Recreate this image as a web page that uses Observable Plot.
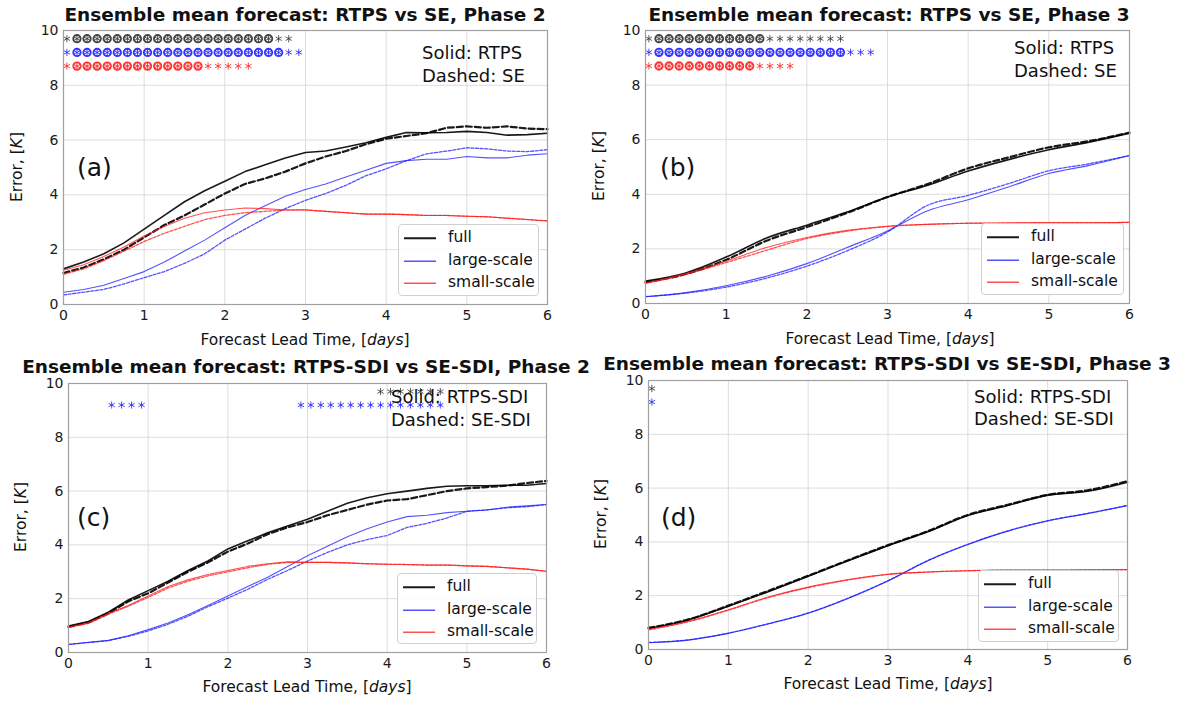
<!DOCTYPE html>
<html><head><meta charset="utf-8">
<script src="https://cdn.jsdelivr.net/npm/d3@7"></script>
<script src="https://cdn.jsdelivr.net/npm/@observablehq/plot@0.6"></script>
<style>
body{margin:0;background:#fff;}
#fig{position:relative;width:1177px;height:702px;overflow:hidden;font-family:"DejaVu Sans",sans-serif;color:#111;}
#fig svg{position:absolute;}
.abs{position:absolute;white-space:nowrap;line-height:1;}
.title{font-weight:bold;font-size:18.5px;transform:translate(-50%,-50%);}
.xlab{font-size:15.5px;transform:translate(-50%,-50%);}
.ylab{font-size:15.5px;transform:translate(-50%,-50%) rotate(-90deg);}
.plab{font-size:25px;transform:translateY(-50%);}
.ann{font-size:18px;transform:translateY(-50%);}
.legend{border:1px solid #d0d0d0;border-radius:4px;background:rgba(255,255,255,0.85);box-sizing:border-box;}
.legend .item{position:absolute;left:0;display:flex;align-items:center;font-size:15.5px;transform:translateY(-50%);}
.legend svg{position:static !important;}
</style></head><body><div id="fig"></div>
<script>
// ---------- data ----------
const xTicks = [0, 1, 2, 3, 4, 5, 6];
const yTicks = [0, 2, 4, 6, 8, 10];
const leadFine = [0,0.25,0.5,0.75,1,1.25,1.5,1.75,2,2.25,2.5,2.75,3,3.25,3.5,3.75,4,4.25,4.5,4.75,5,5.25,5.5,5.75,6];
const leadCoarse = [0,0.5,1,1.5,2,2.5,3,3.5,4,4.5,5,5.5,6];
const sigTimes = [0.042,0.167,0.292,0.417,0.542,0.667,0.792,0.917,1.042,1.167,1.292,1.417,1.542,1.667,1.792,1.917,2.042,2.167,2.292,2.417,2.542,2.667,2.792,2.917,3.042,3.167,3.292,3.417,3.542,3.667,3.792,3.917,4.042,4.167,4.292,4.417,4.542,4.667];
const components = ["full", "large-scale", "small-scale"];

// Panel (a): RTPS vs SE, Phase 2 (lead times: leadFine)
const aFullRTPS  = [1.3,1.55,1.85,2.25,2.75,3.25,3.75,4.15,4.5,4.85,5.1,5.35,5.55,5.6,5.75,5.9,6.1,6.28,6.27,6.28,6.32,6.28,6.18,6.2,6.25];
const aFullSE    = [1.15,1.35,1.65,2.0,2.45,2.9,3.25,3.65,4.05,4.4,4.6,4.85,5.15,5.4,5.6,5.85,6.05,6.15,6.25,6.45,6.5,6.45,6.5,6.42,6.4];
const aLargeRTPS = [0.45,0.55,0.7,0.95,1.2,1.55,1.95,2.35,2.8,3.25,3.6,3.95,4.2,4.4,4.65,4.9,5.15,5.25,5.3,5.3,5.4,5.35,5.35,5.45,5.5];
const aLargeSE   = [0.35,0.45,0.55,0.75,0.98,1.2,1.5,1.85,2.35,2.75,3.15,3.5,3.8,4.05,4.35,4.7,4.95,5.25,5.5,5.6,5.72,5.68,5.6,5.58,5.65];
const aSmallRTPS = [1.25,1.45,1.75,2.1,2.5,2.85,3.15,3.35,3.45,3.52,3.5,3.45,3.45,3.4,3.35,3.3,3.3,3.28,3.25,3.25,3.22,3.2,3.15,3.1,3.05];
const aSmallSE   = [1.1,1.3,1.6,1.95,2.3,2.6,2.85,3.1,3.25,3.35,3.4,3.45,3.45,3.4,3.35,3.3,3.3,3.28,3.25,3.25,3.22,3.2,3.15,3.1,3.05];
const aSig = ["*oooooooooooooooooooo**", "*ooooooooooooooooooooo**", "*ooooooooooooo*****"];

// Panel (b): RTPS vs SE, Phase 3 (lead times: leadCoarse)
const bFullRTPS  = [0.82,1.12,1.7,2.4,2.87,3.35,3.9,4.33,4.85,5.27,5.63,5.91,6.24];
const bFullSE    = [0.78,1.08,1.6,2.3,2.8,3.32,3.9,4.38,4.95,5.35,5.72,5.95,6.26];
const bLargeRTPS = [0.25,0.4,0.65,1.0,1.46,2.05,2.66,3.4,3.8,4.27,4.76,5.06,5.42];
const bLargeSE   = [0.25,0.38,0.6,0.93,1.37,1.93,2.62,3.6,3.96,4.39,4.86,5.12,5.42];
const bSmallRTPS = [0.75,1.1,1.55,2.05,2.42,2.68,2.83,2.9,2.94,2.95,2.96,2.96,2.97];
const bSmallSE   = [0.73,1.07,1.5,1.95,2.38,2.65,2.82,2.9,2.94,2.95,2.96,2.96,2.97];
const bSig = ["*ooooooooooo********", "*ooooooooooooooooooo***", "*oooooooooo****"];

// Panel (c): RTPS-SDI vs SE-SDI, Phase 2 (lead times: leadFine)
const cFullRTPS  = [0.98,1.15,1.5,1.95,2.3,2.65,3.05,3.4,3.85,4.15,4.45,4.7,4.95,5.25,5.55,5.75,5.9,6.0,6.1,6.18,6.2,6.2,6.22,6.22,6.28];
const cFullSE    = [0.95,1.12,1.45,1.9,2.2,2.6,3.0,3.35,3.75,4.05,4.4,4.65,4.85,5.1,5.3,5.5,5.65,5.7,5.85,6.0,6.1,6.15,6.2,6.3,6.38];
const cLargeRTPS = [0.3,0.38,0.45,0.62,0.85,1.1,1.4,1.75,2.1,2.45,2.8,3.2,3.6,3.95,4.3,4.6,4.85,5.05,5.1,5.2,5.25,5.3,5.4,5.45,5.5];
const cLargeSE   = [0.3,0.37,0.44,0.6,0.8,1.05,1.35,1.7,2.02,2.35,2.72,3.05,3.4,3.72,4.0,4.2,4.35,4.65,4.8,5.0,5.25,5.3,5.38,5.42,5.5];
const cSmallRTPS = [0.95,1.1,1.45,1.75,2.1,2.45,2.7,2.9,3.05,3.2,3.3,3.37,3.35,3.35,3.33,3.3,3.28,3.27,3.25,3.25,3.22,3.2,3.15,3.1,3.02];
const cSmallSE   = [0.93,1.08,1.42,1.72,2.05,2.4,2.65,2.85,3.0,3.15,3.28,3.35,3.35,3.35,3.33,3.3,3.28,3.27,3.25,3.25,3.22,3.2,3.15,3.1,3.02];
const cSig = ["...............................*******", "....****...............***************", ""];

// Panel (d): RTPS-SDI vs SE-SDI, Phase 3 (lead times: leadCoarse)
const dFullRTPS  = [0.78,1.1,1.61,2.15,2.72,3.3,3.86,4.38,4.98,5.35,5.74,5.88,6.22];
const dFullSE    = [0.8,1.12,1.63,2.18,2.74,3.32,3.88,4.4,5.0,5.38,5.75,5.92,6.26];
const dLargeRTPS = [0.25,0.35,0.6,0.95,1.35,1.9,2.55,3.3,3.9,4.4,4.78,5.05,5.35];
const dLargeSE   = [0.26,0.36,0.61,0.96,1.36,1.91,2.56,3.31,3.91,4.41,4.79,5.06,5.36];
const dSmallRTPS = [0.75,1.05,1.48,1.95,2.32,2.6,2.8,2.88,2.93,2.95,2.95,2.96,2.97];
const dSmallSE   = [0.73,1.03,1.46,1.93,2.3,2.58,2.79,2.88,2.93,2.95,2.95,2.96,2.97];
const dSig = ["*", "*", ""];

// ---------- styles ----------
const compStyle = {
  "full":        {color: "#000", width: 1.6, dashWidth: 2.2, dash: "6,3", opacity: 0.9, sigLevel: 9.7, sigColor: "#333"},
  "large-scale": {color: "#1a1aff", width: 1.1, dashWidth: 1.3, dash: "3,1.6", opacity: 0.75, sigLevel: 9.2, sigColor: "#2020ff"},
  "small-scale": {color: "#ff1a1a", width: 1.1, dashWidth: 1.3, dash: "3,1.6", opacity: 0.75, sigLevel: 8.7, sigColor: "#ff2020"}
};

const panels = [
  {lead: leadFine, series: [[aFullRTPS,aFullSE],[aLargeRTPS,aLargeSE],[aSmallRTPS,aSmallSE]], sig: aSig,
   box: {left:0, top:0, width:590, height:350, ml:63, mr:43, mt:30, mb:46},
   title: "Ensemble mean forecast: RTPS vs SE, Phase 2", tx:305, ty:15,
   letter: "(a)", lx:77, ly:167, ylx:18, yly:167, xlx:305, xly:341,
   ann: ["Solid: RTPS", "Dashed: SE"], ax:422, ay:[53,76],
   legend: {x:398, y:224, w:141, h:72}},
  {lead: leadCoarse, series: [[bFullRTPS,bFullSE],[bLargeRTPS,bLargeSE],[bSmallRTPS,bSmallSE]], sig: bSig,
   box: {left:590, top:0, width:587, height:350, ml:55, mr:48, mt:30, mb:47},
   title: "Ensemble mean forecast: RTPS vs SE, Phase 3", tx:889, ty:15,
   letter: "(b)", lx:660, ly:167, ylx:600, yly:166, xlx:890, xly:340,
   ann: ["Solid: RTPS", "Dashed: SE"], ax:1014, ay:[48,71],
   legend: {x:981, y:223, w:143, h:72}},
  {lead: leadFine, series: [[cFullRTPS,cFullSE],[cLargeRTPS,cLargeSE],[cSmallRTPS,cSmallSE]], sig: cSig,
   box: {left:0, top:350, width:590, height:352, ml:68, mr:44, mt:33, mb:50},
   title: "Ensemble mean forecast: RTPS-SDI vs SE-SDI, Phase 2", tx:306, ty:367,
   letter: "(c)", lx:77, ly:517, ylx:22, yly:517, xlx:307, xly:688,
   ann: ["Solid: RTPS-SDI", "Dashed: SE-SDI"], ax:391, ay:[397,420],
   legend: {x:397, y:573, w:140, h:71}},
  {lead: leadCoarse, series: [[dFullRTPS,dFullSE],[dLargeRTPS,dLargeSE],[dSmallRTPS,dSmallSE]], sig: dSig,
   box: {left:590, top:350, width:587, height:352, ml:58, mr:50, mt:30, mb:53},
   title: "Ensemble mean forecast: RTPS-SDI vs SE-SDI, Phase 3", tx:887, ty:364,
   letter: "(d)", lx:661, ly:517, ylx:602, yly:514, xlx:888, xly:685,
   ann: ["Solid: RTPS-SDI", "Dashed: SE-SDI"], ax:974, ay:[397,419],
   legend: {x:978, y:570, w:141, h:72}}
];

const fig = document.getElementById("fig");
function addText(cls, html, x, y) {
  const d = document.createElement("div");
  d.className = "abs " + cls;
  d.innerHTML = html;
  d.style.left = x + "px";
  d.style.top = y + "px";
  fig.appendChild(d);
  return d;
}

for (const p of panels) {
  const marks = [
    Plot.gridX(xTicks, {stroke: "#d9d9d9", strokeOpacity: 1, strokeWidth: 0.9}),
    Plot.gridY(yTicks, {stroke: "#d9d9d9", strokeOpacity: 1, strokeWidth: 0.9}),
    Plot.axisX(xTicks, {tickSize: 0, tickPadding: 6, label: null, fontSize: 14, fill: "#1a1a1a"}),
    Plot.axisY(yTicks, {tickSize: 0, tickPadding: 5, label: null, fontSize: 14, fill: "#1a1a1a"})
  ];
  components.forEach((comp, ci) => {
    const st = compStyle[comp];
    const [solidVals, dashedVals] = p.series[ci];
    const solid = solidVals.map((v, i) => ({t: p.lead[i], v}));
    const dashed = dashedVals.map((v, i) => ({t: p.lead[i], v}));
    const curve = p.lead.length < 20 ? "monotone-x" : "linear";
    marks.push(Plot.line(solid, {x: "t", y: "v", stroke: st.color, strokeWidth: st.width, strokeOpacity: st.opacity, curve}));
    marks.push(Plot.line(dashed, {x: "t", y: "v", stroke: st.color, strokeWidth: st.dashWidth, strokeOpacity: st.opacity, strokeDasharray: st.dash, curve}));
    // significance markers
    const sigStr = p.sig[ci];
    const pts = [];
    for (let i = 0; i < sigStr.length; i++) {
      const c = sigStr[i];
      if (c === "*" || c === "o") pts.push({t: sigTimes[i], y: st.sigLevel, circ: c === "o"});
    }
    marks.push(Plot.dot(pts.filter(d => d.circ), {x: "t", y: "y", r: 3.7, stroke: st.sigColor, strokeWidth: 1.9, fill: "none", strokeOpacity: 0.9}));
    marks.push(Plot.dot(pts, {x: "t", y: "y", symbol: "asterisk", r: 3.4, stroke: st.sigColor, strokeWidth: 0.9, strokeOpacity: 0.9}));
  });
  marks.push(Plot.frame({stroke: "#a0a0a0", strokeWidth: 1.2}));

  const b = p.box;
  const svg = Plot.plot({
    width: b.width, height: b.height,
    marginLeft: b.ml, marginRight: b.mr, marginTop: b.mt, marginBottom: b.mb,
    x: {domain: [0, 6]},
    y: {domain: [0, 10]},
    style: {fontFamily: "DejaVu Sans", fontSize: "14px", background: "transparent", overflow: "visible"},
    marks
  });
  svg.style.left = b.left + "px";
  svg.style.top = b.top + "px";
  fig.appendChild(svg);

  addText("title", p.title, p.tx, p.ty);
  addText("plab", p.letter, p.lx, p.ly);
  addText("ylab", "Error, [<i>K</i>]", p.ylx, p.yly);
  addText("xlab", "Forecast Lead Time, [<i>days</i>]", p.xlx, p.xly);
  addText("ann", p.ann[0], p.ax, p.ay[0]);
  addText("ann", p.ann[1], p.ax, p.ay[1]);

  // legend
  const L = p.legend;
  const lg = document.createElement("div");
  lg.className = "abs legend";
  Object.assign(lg.style, {left: L.x + "px", top: L.y + "px", width: L.w + "px", height: L.h + "px"});
  const rowsY = [13, 36, 58];
  components.forEach((comp, ci) => {
    const st = compStyle[comp];
    const it = document.createElement("div");
    it.className = "item";
    it.style.top = rowsY[ci] + "px";
    it.innerHTML = `<svg width="49" height="10"><line x1="5" x2="37" y1="5" y2="5" stroke="${st.color}" stroke-opacity="${st.opacity}" stroke-width="${st.width + 0.2}"/></svg><span>${comp}</span>`;
    lg.appendChild(it);
  });
  fig.appendChild(lg);
}
</script></body></html>
